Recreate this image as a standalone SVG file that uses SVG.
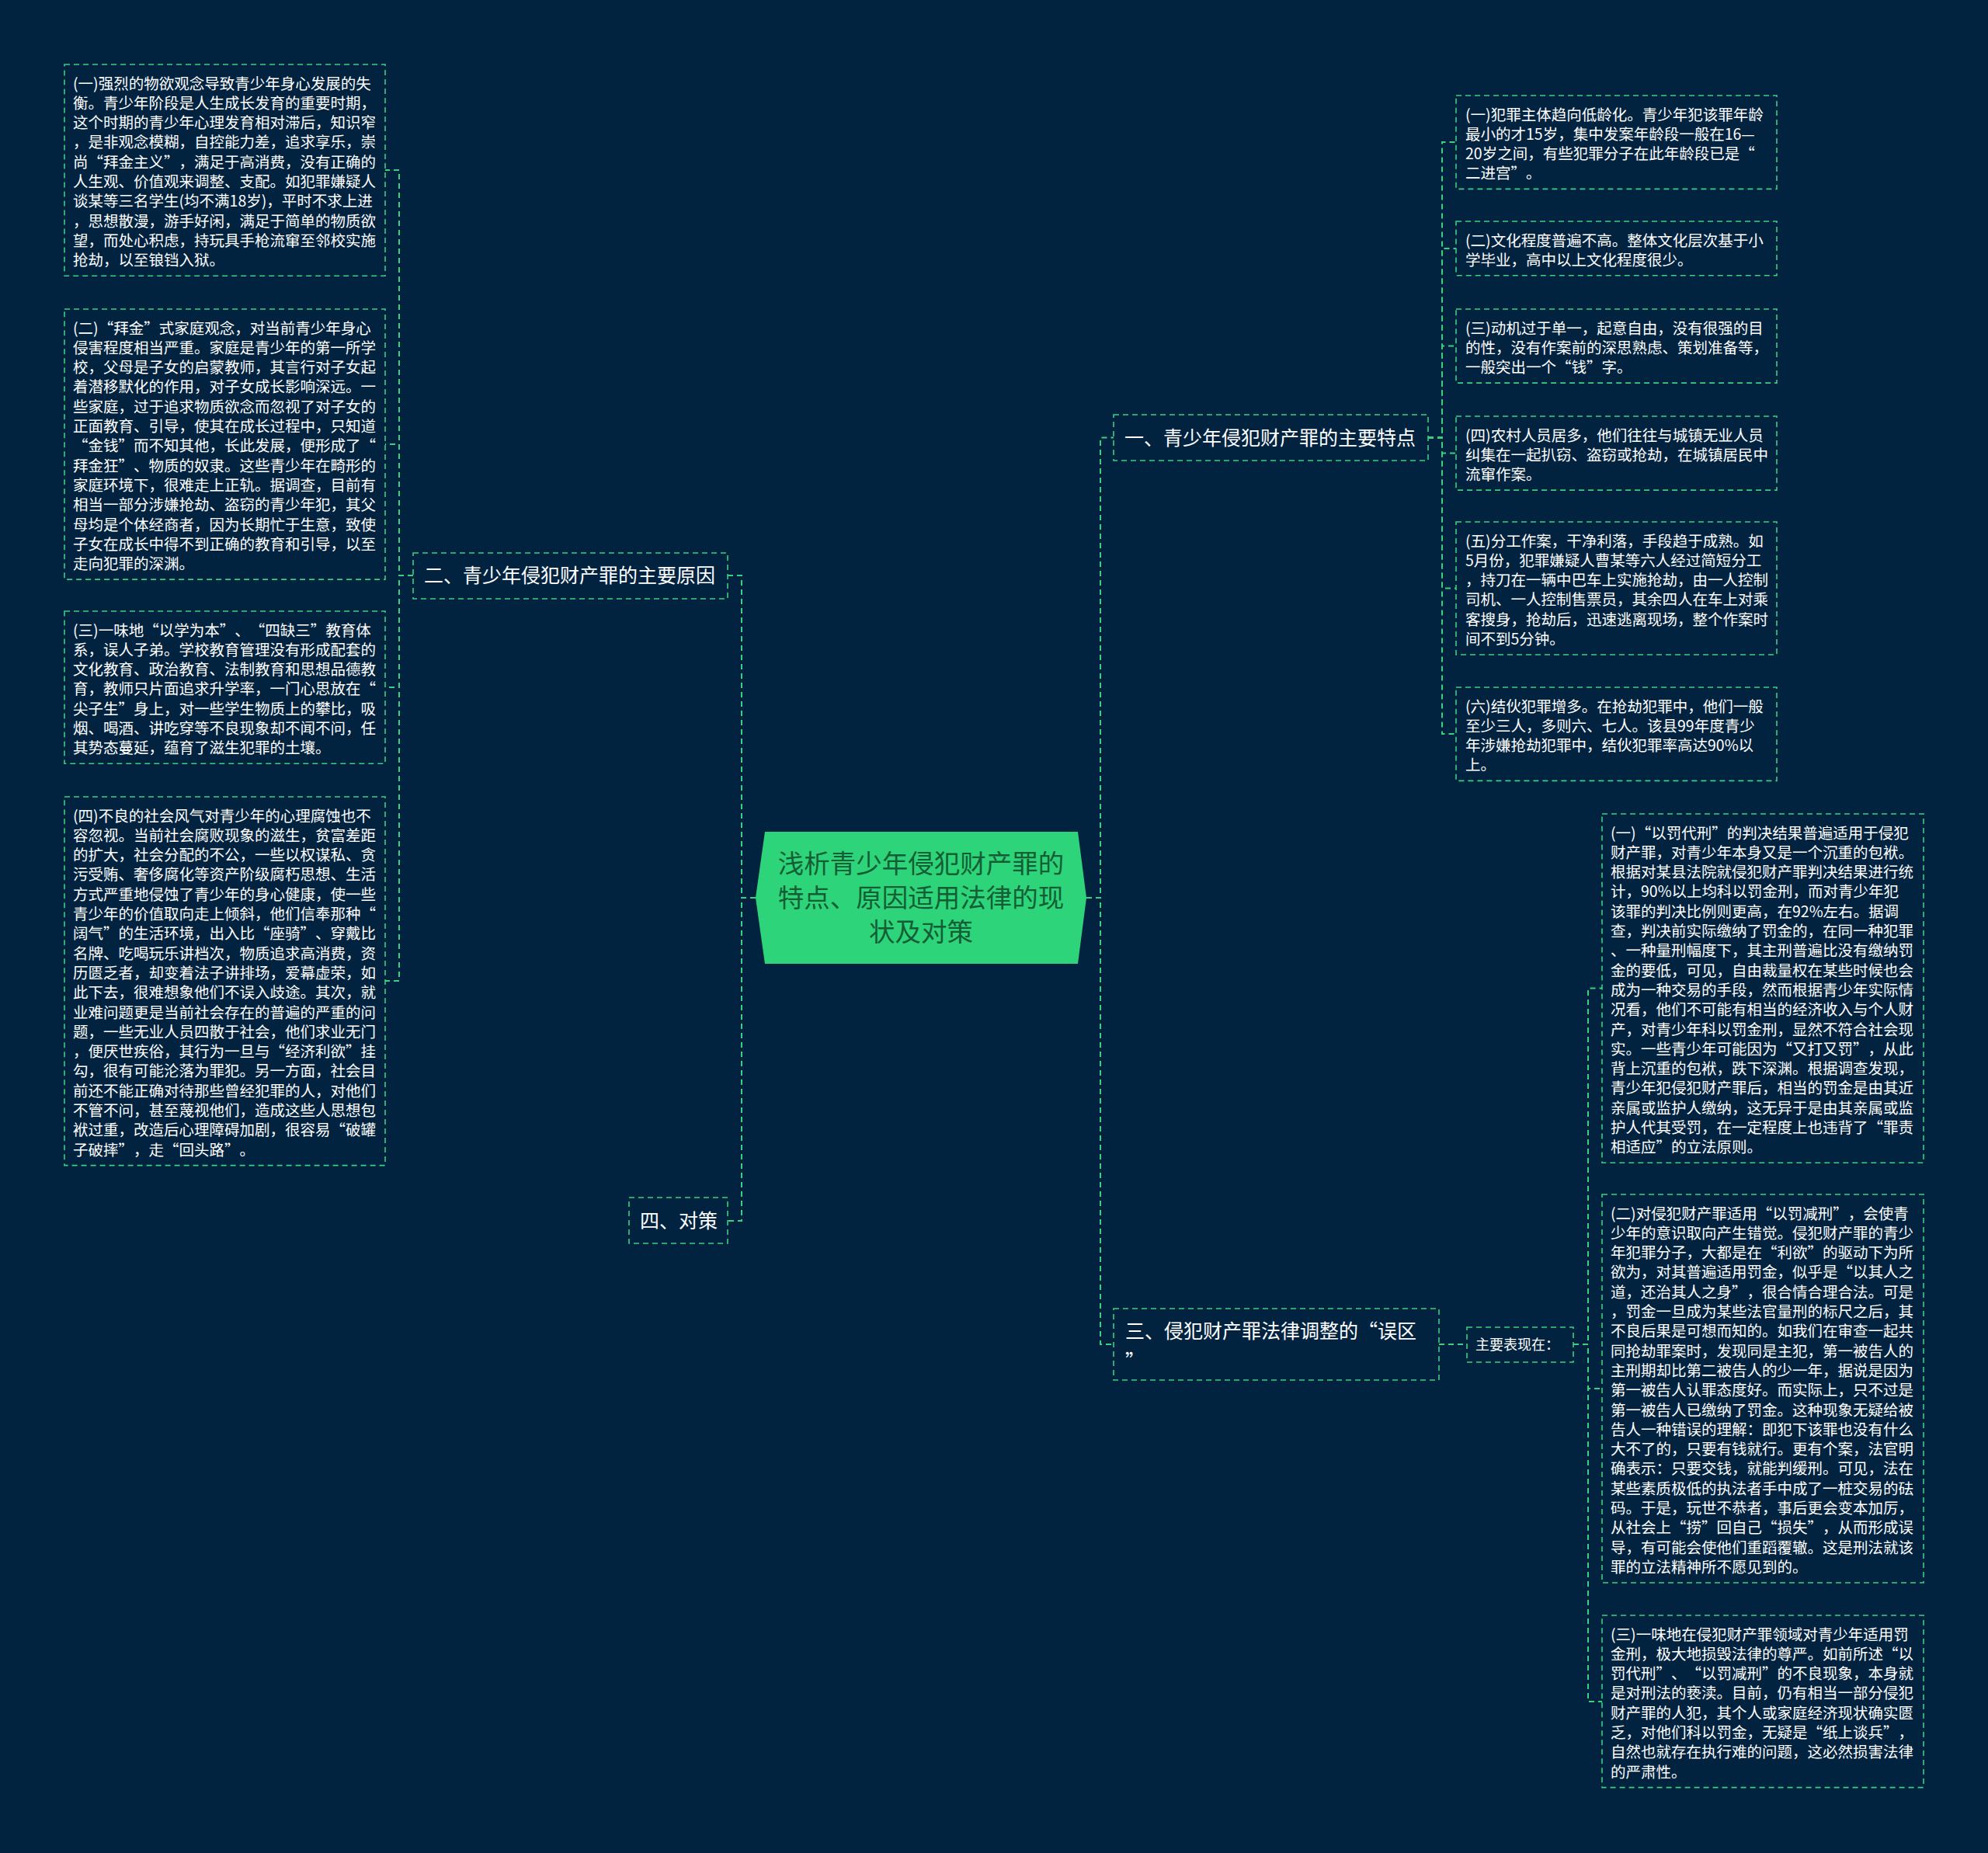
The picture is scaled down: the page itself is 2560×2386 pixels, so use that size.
<svg xmlns="http://www.w3.org/2000/svg" width="2560" height="2386" viewBox="0 0 2560 2386">
<style>
text{text-spacing-trim:space-all}
.box{fill:none;stroke:#3ad07f;stroke-width:1.6;stroke-dasharray:7 5}
.link{fill:none;stroke:#3ad07f;stroke-width:2;stroke-dasharray:7 5}
.leaf{font-family:"Noto Sans CJK SC","Microsoft YaHei",sans-serif;font-size:19.5px;fill:#ffffff}
.br{font-family:"Noto Sans CJK SC","Microsoft YaHei",sans-serif;font-size:25px;fill:#ffffff}
.sm{font-family:"Noto Sans CJK SC","Microsoft YaHei",sans-serif;font-size:18px;fill:#ffffff}
.root{font-family:"Noto Sans CJK SC","Microsoft YaHei",sans-serif;font-size:33.5px;fill:#135e34;text-anchor:middle}
</style>
<rect width="2560" height="2386" fill="#02233f"/>

<g id="connectors">
<path class="link" d="M973 1156 H955 V741 H937"/>
<path class="link" d="M973 1156 H955 V1572 H937"/>
<path class="link" d="M1399 1156 H1417 V563.5 H1434"/>
<path class="link" d="M1399 1156 H1417 V1731 H1434"/>
<path class="link" d="M532 741 H514 V219 H496"/>
<path class="link" d="M532 741 H514 V572 H496"/>
<path class="link" d="M532 741 H514 V885 H496"/>
<path class="link" d="M532 741 H514 V1263 H496"/>
<path class="link" d="M1839 563.5 H1857 V183 H1875"/>
<path class="link" d="M1839 563.5 H1857 V320 H1875"/>
<path class="link" d="M1839 563.5 H1857 V445.5 H1875"/>
<path class="link" d="M1839 563.5 H1857 V583.5 H1875"/>
<path class="link" d="M1839 563.5 H1857 V757.5 H1875"/>
<path class="link" d="M1839 563.5 H1857 V945 H1875"/>
<path class="link" d="M1853 1731 H1889"/>
<path class="link" d="M2026 1731 H2045 V1272.6 H2063"/>
<path class="link" d="M2026 1731 H2045 V1788 H2063"/>
<path class="link" d="M2026 1731 H2045 V2191 H2063"/>
</g>

<g id="root">
<polygon points="985,1071 1388,1071 1399,1156 1388,1241 985,1241 973,1156" fill="#2ed47a"/>
<text class="root"><tspan x="1186" y="1124">浅析青少年侵犯财产罪的</tspan><tspan x="1186" y="1168">特点、原因适用法律的现</tspan><tspan x="1186" y="1212">状及对策</tspan></text>
</g>

<g id="branch1">
<rect class="box" x="1434" y="534" width="405" height="59"/>
<text class="br" x="1448" y="572.5">一、青少年侵犯财产罪的主要特点</text>
</g>
<g id="branch2">
<rect class="box" x="532" y="712" width="405" height="59"/>
<text class="br" x="546" y="750">二、青少年侵犯财产罪的主要原因</text>
</g>
<g id="branch3">
<rect class="box" x="1434" y="1685" width="419" height="92"/>
<text class="br" x="1449" y="1723">三、侵犯财产罪法律调整的“误区</text>
<text class="br" x="1449" y="1762">”</text>
</g>
<g id="branch4">
<rect class="box" x="810" y="1542" width="127" height="59"/>
<text class="br" x="824" y="1581">四、对策</text>
</g>
<g id="branch3-sub">
<rect class="box" x="1889" y="1709" width="137" height="45"/>
<text class="sm" x="1900" y="1737.5">主要表现在：</text>
</g>

<g id="L1">
<rect class="box" x="83" y="83" width="413" height="272.2"/>
<text class="leaf"><tspan x="94" y="114.5">(一)强烈的物欲观念导致青少年身心发展的失</tspan><tspan x="94" y="139.8">衡。青少年阶段是人生成长发育的重要时期，</tspan><tspan x="94" y="165.1">这个时期的青少年心理发育相对滞后，知识窄</tspan><tspan x="94" y="190.4">，是非观念模糊，自控能力差，追求享乐，崇</tspan><tspan x="94" y="215.7">尚“拜金主义”，满足于高消费，没有正确的</tspan><tspan x="94" y="241">人生观、价值观来调整、支配。如犯罪嫌疑人</tspan><tspan x="94" y="266.3">谈某等三名学生(均不满18岁)，平时不求上进</tspan><tspan x="94" y="291.6">，思想散漫，游手好闲，满足于简单的物质欲</tspan><tspan x="94" y="316.9">望，而处心积虑，持玩具手枪流窜至邻校实施</tspan><tspan x="94" y="342.2">抢劫，以至锒铛入狱。</tspan></text>
</g>
<g id="L2">
<rect class="box" x="83" y="398" width="413" height="348.1"/>
<text class="leaf"><tspan x="94" y="429.5">(二)“拜金”式家庭观念，对当前青少年身心</tspan><tspan x="94" y="454.8">侵害程度相当严重。家庭是青少年的第一所学</tspan><tspan x="94" y="480.1">校，父母是子女的启蒙教师，其言行对子女起</tspan><tspan x="94" y="505.4">着潜移默化的作用，对子女成长影响深远。一</tspan><tspan x="94" y="530.7">些家庭，过于追求物质欲念而忽视了对子女的</tspan><tspan x="94" y="556">正面教育、引导，使其在成长过程中，只知道</tspan><tspan x="94" y="581.3">“金钱”而不知其他，长此发展，便形成了“</tspan><tspan x="94" y="606.6">拜金狂”、物质的奴隶。这些青少年在畸形的</tspan><tspan x="94" y="631.9">家庭环境下，很难走上正轨。据调查，目前有</tspan><tspan x="94" y="657.2">相当一部分涉嫌抢劫、盗窃的青少年犯，其父</tspan><tspan x="94" y="682.5">母均是个体经商者，因为长期忙于生意，致使</tspan><tspan x="94" y="707.8">子女在成长中得不到正确的教育和引导，以至</tspan><tspan x="94" y="733.1">走向犯罪的深渊。</tspan></text>
</g>
<g id="L3">
<rect class="box" x="83" y="787" width="413" height="196.3"/>
<text class="leaf"><tspan x="94" y="818.5">(三)一味地“以学为本”、“四缺三”教育体</tspan><tspan x="94" y="843.8">系，误人子弟。学校教育管理没有形成配套的</tspan><tspan x="94" y="869.1">文化教育、政治教育、法制教育和思想品德教</tspan><tspan x="94" y="894.4">育，教师只片面追求升学率，一门心思放在“</tspan><tspan x="94" y="919.7">尖子生”身上，对一些学生物质上的攀比，吸</tspan><tspan x="94" y="945">烟、喝酒、讲吃穿等不良现象却不闻不问，任</tspan><tspan x="94" y="970.3">其势态蔓延，蕴育了滋生犯罪的土壤。</tspan></text>
</g>
<g id="L4">
<rect class="box" x="83" y="1026" width="413" height="474.6"/>
<text class="leaf"><tspan x="94" y="1057.5">(四)不良的社会风气对青少年的心理腐蚀也不</tspan><tspan x="94" y="1082.8">容忽视。当前社会腐败现象的滋生，贫富差距</tspan><tspan x="94" y="1108.1">的扩大，社会分配的不公，一些以权谋私、贪</tspan><tspan x="94" y="1133.4">污受贿、奢侈腐化等资产阶级腐朽思想、生活</tspan><tspan x="94" y="1158.7">方式严重地侵蚀了青少年的身心健康，使一些</tspan><tspan x="94" y="1184">青少年的价值取向走上倾斜，他们信奉那种“</tspan><tspan x="94" y="1209.3">阔气”的生活环境，出入比“座骑”、穿戴比</tspan><tspan x="94" y="1234.6">名牌、吃喝玩乐讲档次，物质追求高消费，资</tspan><tspan x="94" y="1259.9">历匮乏者，却变着法子讲排场，爱幕虚荣，如</tspan><tspan x="94" y="1285.2">此下去，很难想象他们不误入歧途。其次，就</tspan><tspan x="94" y="1310.5">业难问题更是当前社会存在的普遍的严重的问</tspan><tspan x="94" y="1335.8">题，一些无业人员四散于社会，他们求业无门</tspan><tspan x="94" y="1361.1">，便厌世疾俗，其行为一旦与“经济利欲”挂</tspan><tspan x="94" y="1386.4">勾，很有可能沦落为罪犯。另一方面，社会目</tspan><tspan x="94" y="1411.7">前还不能正确对待那些曾经犯罪的人，对他们</tspan><tspan x="94" y="1437">不管不问，甚至蔑视他们，造成这些人思想包</tspan><tspan x="94" y="1462.3">袱过重，改造后心理障碍加剧，很容易“破罐</tspan><tspan x="94" y="1487.6">子破摔”，走“回头路”。</tspan></text>
</g>

<g id="R1">
<rect class="box" x="1875" y="123" width="413" height="120.4"/>
<text class="leaf"><tspan x="1887" y="154.5">(一)犯罪主体趋向低龄化。青少年犯该罪年龄</tspan><tspan x="1887" y="179.8">最小的才15岁，集中发案年龄段一般在16—</tspan><tspan x="1887" y="205.1">20岁之间，有些犯罪分子在此年龄段已是“</tspan><tspan x="1887" y="230.4">二进宫”。</tspan></text>
</g>
<g id="R2">
<rect class="box" x="1875" y="285" width="413" height="69.8"/>
<text class="leaf"><tspan x="1887" y="316.5">(二)文化程度普遍不高。整体文化层次基于小</tspan><tspan x="1887" y="341.8">学毕业，高中以上文化程度很少。</tspan></text>
</g>
<g id="R3">
<rect class="box" x="1875" y="398" width="413" height="95.1"/>
<text class="leaf"><tspan x="1887" y="429.5">(三)动机过于单一，起意自由，没有很强的目</tspan><tspan x="1887" y="454.8">的性，没有作案前的深思熟虑、策划准备等，</tspan><tspan x="1887" y="480.1">一般突出一个“钱”字。</tspan></text>
</g>
<g id="R4">
<rect class="box" x="1875" y="536" width="413" height="95.1"/>
<text class="leaf"><tspan x="1887" y="567.5">(四)农村人员居多，他们往往与城镇无业人员</tspan><tspan x="1887" y="592.8">纠集在一起扒窃、盗窃或抢劫，在城镇居民中</tspan><tspan x="1887" y="618.1">流窜作案。</tspan></text>
</g>
<g id="R5">
<rect class="box" x="1875" y="672" width="413" height="171"/>
<text class="leaf"><tspan x="1887" y="703.5">(五)分工作案，干净利落，手段趋于成熟。如</tspan><tspan x="1887" y="728.8">5月份，犯罪嫌疑人曹某等六人经过简短分工</tspan><tspan x="1887" y="754.1">，持刀在一辆中巴车上实施抢劫，由一人控制</tspan><tspan x="1887" y="779.4">司机、一人控制售票员，其余四人在车上对乘</tspan><tspan x="1887" y="804.7">客搜身，抢劫后，迅速逃离现场，整个作案时</tspan><tspan x="1887" y="830">间不到5分钟。</tspan></text>
</g>
<g id="R6">
<rect class="box" x="1875" y="885" width="413" height="120.4"/>
<text class="leaf"><tspan x="1887" y="916.5">(六)结伙犯罪增多。在抢劫犯罪中，他们一般</tspan><tspan x="1887" y="941.8">至少三人，多则六、七人。该县99年度青少</tspan><tspan x="1887" y="967.1">年涉嫌抢劫犯罪中，结伙犯罪率高达90%以</tspan><tspan x="1887" y="992.4">上。</tspan></text>
</g>

<g id="B1">
<rect class="box" x="2063" y="1048" width="414" height="449.3"/>
<text class="leaf"><tspan x="2074" y="1079.5">(一)“以罚代刑”的判决结果普遍适用于侵犯</tspan><tspan x="2074" y="1104.8">财产罪，对青少年本身又是一个沉重的包袱。</tspan><tspan x="2074" y="1130.1">根据对某县法院就侵犯财产罪判决结果进行统</tspan><tspan x="2074" y="1155.4">计，90%以上均科以罚金刑，而对青少年犯</tspan><tspan x="2074" y="1180.7">该罪的判决比例则更高，在92%左右。据调</tspan><tspan x="2074" y="1206">查，判决前实际缴纳了罚金的，在同一种犯罪</tspan><tspan x="2074" y="1231.3">、一种量刑幅度下，其主刑普遍比没有缴纳罚</tspan><tspan x="2074" y="1256.6">金的要低，可见，自由裁量权在某些时候也会</tspan><tspan x="2074" y="1281.9">成为一种交易的手段，然而根据青少年实际情</tspan><tspan x="2074" y="1307.2">况看，他们不可能有相当的经济收入与个人财</tspan><tspan x="2074" y="1332.5">产，对青少年科以罚金刑，显然不符合社会现</tspan><tspan x="2074" y="1357.8">实。一些青少年可能因为“又打又罚”，从此</tspan><tspan x="2074" y="1383.1">背上沉重的包袱，跌下深渊。根据调查发现，</tspan><tspan x="2074" y="1408.4">青少年犯侵犯财产罪后，相当的罚金是由其近</tspan><tspan x="2074" y="1433.7">亲属或监护人缴纳，这无异于是由其亲属或监</tspan><tspan x="2074" y="1459">护人代其受罚，在一定程度上也违背了“罪责</tspan><tspan x="2074" y="1484.3">相适应”的立法原则。</tspan></text>
</g>
<g id="B2">
<rect class="box" x="2063" y="1538" width="414" height="500"/>
<text class="leaf"><tspan x="2074" y="1569.5">(二)对侵犯财产罪适用“以罚减刑”，会使青</tspan><tspan x="2074" y="1594.8">少年的意识取向产生错觉。侵犯财产罪的青少</tspan><tspan x="2074" y="1620.1">年犯罪分子，大都是在“利欲”的驱动下为所</tspan><tspan x="2074" y="1645.4">欲为，对其普遍适用罚金，似乎是“以其人之</tspan><tspan x="2074" y="1670.7">道，还治其人之身”，很合情合理合法。可是</tspan><tspan x="2074" y="1696">，罚金一旦成为某些法官量刑的标尺之后，其</tspan><tspan x="2074" y="1721.3">不良后果是可想而知的。如我们在审查一起共</tspan><tspan x="2074" y="1746.6">同抢劫罪案时，发现同是主犯，第一被告人的</tspan><tspan x="2074" y="1771.9">主刑期却比第二被告人的少一年，据说是因为</tspan><tspan x="2074" y="1797.2">第一被告人认罪态度好。而实际上，只不过是</tspan><tspan x="2074" y="1822.5">第一被告人已缴纳了罚金。这种现象无疑给被</tspan><tspan x="2074" y="1847.8">告人一种错误的理解：即犯下该罪也没有什么</tspan><tspan x="2074" y="1873.1">大不了的，只要有钱就行。更有个案，法官明</tspan><tspan x="2074" y="1898.4">确表示：只要交钱，就能判缓刑。可见，法在</tspan><tspan x="2074" y="1923.7">某些素质极低的执法者手中成了一桩交易的砝</tspan><tspan x="2074" y="1949">码。于是，玩世不恭者，事后更会变本加厉，</tspan><tspan x="2074" y="1974.3">从社会上“捞”回自己“损失”，从而形成误</tspan><tspan x="2074" y="1999.6">导，有可能会使他们重蹈覆辙。这是刑法就该</tspan><tspan x="2074" y="2024.9">罪的立法精神所不愿见到的。</tspan></text>
</g>
<g id="B3">
<rect class="box" x="2063" y="2080" width="414" height="221.6"/>
<text class="leaf"><tspan x="2074" y="2111.5">(三)一味地在侵犯财产罪领域对青少年适用罚</tspan><tspan x="2074" y="2136.8">金刑，极大地损毁法律的尊严。如前所述“以</tspan><tspan x="2074" y="2162.1">罚代刑”、“以罚减刑”的不良现象，本身就</tspan><tspan x="2074" y="2187.4">是对刑法的亵渎。目前，仍有相当一部分侵犯</tspan><tspan x="2074" y="2212.7">财产罪的人犯，其个人或家庭经济现状确实匮</tspan><tspan x="2074" y="2238">乏，对他们科以罚金，无疑是“纸上谈兵”，</tspan><tspan x="2074" y="2263.3">自然也就存在执行难的问题，这必然损害法律</tspan><tspan x="2074" y="2288.6">的严肃性。</tspan></text>
</g>
</svg>
